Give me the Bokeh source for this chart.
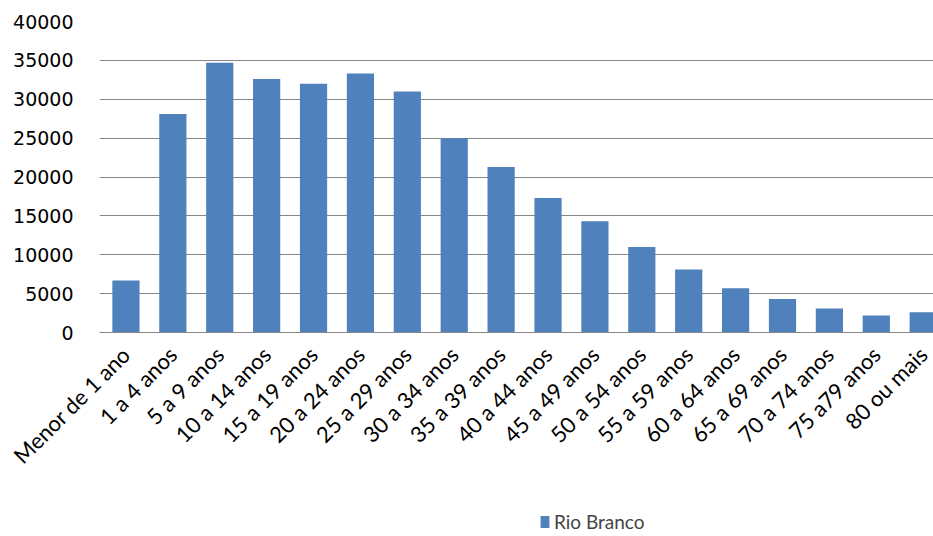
from math import pi

from bokeh.embed import file_html
from bokeh.layouts import column
from bokeh.models import (ColumnDataSource, FixedTicker, Legend, LegendItem,
                          Range1d)
from bokeh.plotting import figure
from bokeh.resources import INLINE

# Population by age group, Rio Branco
age_groups = [
    "Menor de 1 ano", "1 a 4 anos", "5 a 9 anos", "10 a 14 anos",
    "15 a 19 anos", "20 a 24 anos", "25 a 29 anos", "30 a 34 anos",
    "35 a 39 anos", "40 a 44 anos", "45 a 49 anos", "50 a 54 anos",
    "55 a 59 anos", "60 a 64 anos", "65 a 69 anos", "70 a 74 anos",
    "75 a79 anos", "80 ou mais",
]
population = [
    6700, 28100, 34700, 32600, 32000, 33300, 31000, 25000,
    21300, 17300, 14300, 11000, 8100, 5700, 4300, 3100, 2200, 2600,
]
series_name = "Rio Branco"
y_ticks = [0, 5000, 10000, 15000, 20000, 25000, 30000, 35000, 40000]

BAR_COLOR = "#4F81BD"
GRID_COLOR = "#868686"

positions = list(range(len(age_groups)))
source = ColumnDataSource(data=dict(x=positions, pop=population))

p = figure(
    frame_width=834, frame_height=311,
    output_backend="svg", toolbar_location=None,
    x_range=Range1d(-0.564, 17.22), y_range=Range1d(0, 40000),
    min_border_left=99, min_border_right=0, min_border_top=21,
    min_border_bottom=173,
    outline_line_color=None,
)

bars = p.vbar(x="x", top="pop", width=0.58, source=source,
              fill_color=BAR_COLOR, line_color=None)

# axes
p.xaxis.ticker = FixedTicker(ticks=positions)
p.xaxis.major_label_overrides = {i: lab for i, lab in enumerate(age_groups)}
p.xaxis.major_label_orientation = pi / 4
p.xaxis.major_label_text_font = "Lato"
p.xaxis.major_label_text_font_size = "22px"
p.xaxis.major_label_text_color = "#000000"
p.xaxis.major_label_standoff = 12
p.xaxis.axis_line_color = GRID_COLOR
p.xaxis.major_tick_line_color = None
p.xaxis.minor_tick_line_color = None

p.yaxis.ticker = FixedTicker(ticks=y_ticks)
p.yaxis.formatter.use_scientific = False
p.yaxis.major_label_text_font = "DejaVu Sans"
p.yaxis.major_label_text_font_size = "19px"
p.yaxis.major_label_text_color = "#000000"
p.yaxis.major_label_standoff = 20
p.yaxis.axis_line_color = None
p.yaxis.major_tick_line_color = None
p.yaxis.minor_tick_line_color = None

p.xgrid.grid_line_color = None
p.ygrid.grid_line_color = GRID_COLOR
p.ygrid.grid_line_width = 1

# legend strip under the chart; its bars fall outside the strip's ranges,
# so only the legend swatch is shown
leg_fig = figure(
    width=933, height=31,
    output_backend="svg", toolbar_location=None,
    x_range=Range1d(-200, -100), y_range=Range1d(50000, 60000),
    x_axis_location=None, y_axis_location=None,
    min_border=0, outline_line_color=None,
)
leg_fig.xgrid.grid_line_color = None
leg_fig.ygrid.grid_line_color = None
swatch = leg_fig.vbar(x="x", top="pop", width=0.58, source=source,
                      fill_color=BAR_COLOR, line_color=None)

legend = Legend(
    items=[LegendItem(label=series_name, renderers=[swatch])],
    location=(440, 3), orientation="horizontal",
    label_text_font="Lato", label_text_font_size="19px",
    glyph_width=11, glyph_height=15, label_standoff=4,
    border_line_color=None, background_fill_alpha=0,
    padding=0, margin=0,
)
leg_fig.add_layout(legend, "center")

open("out.html", "w").write(file_html(column(p, leg_fig, spacing=0), INLINE))
